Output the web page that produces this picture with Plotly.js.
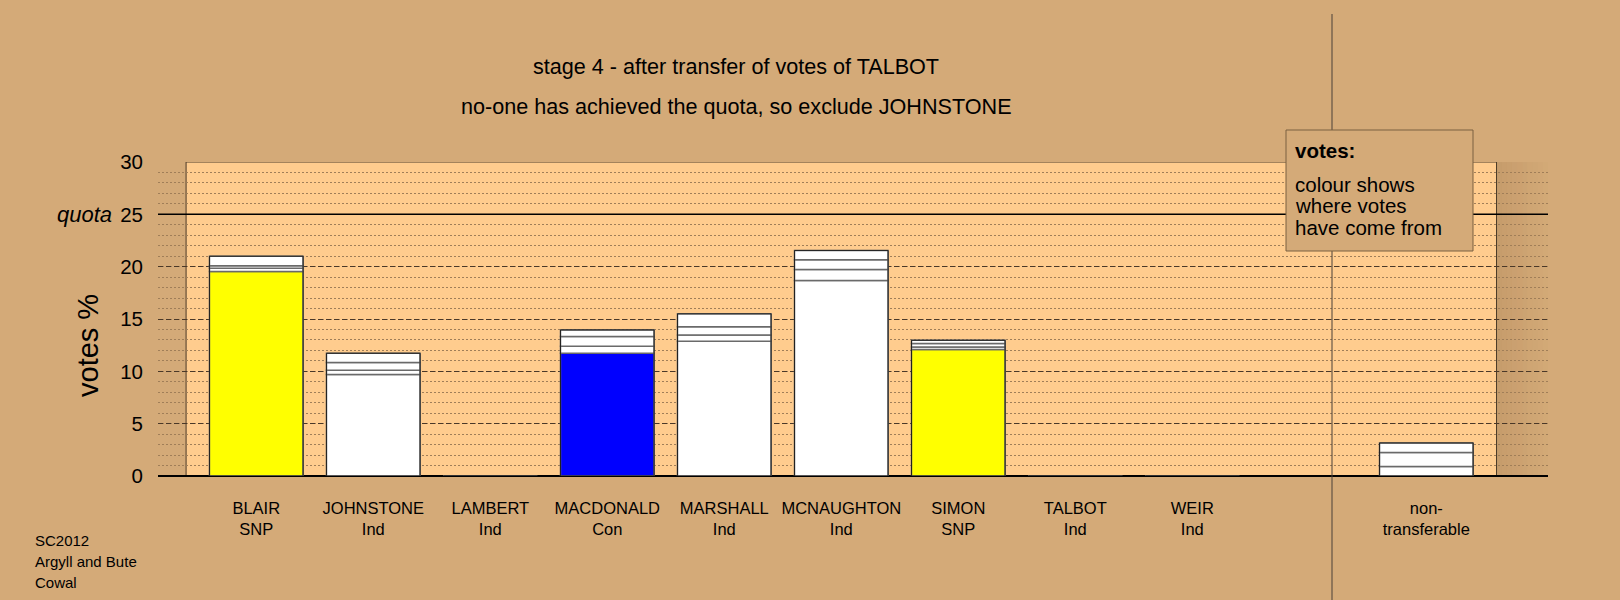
<!DOCTYPE html>
<html>
<head>
<meta charset="utf-8">
<script src="https://cdn.plot.ly/plotly-3.0.1.min.js"></script>
<style>html,body{margin:0;padding:0;background:#D4AA78;}#chart{width:1620px;height:600px;}</style>
</head>
<body>
<div id="chart"></div>
<script>
// ---- data ----
const candidates = ['BLAIR','JOHNSTONE','LAMBERT','MACDONALD','MARSHALL','MCNAUGHTON','SIMON','TALBOT','WEIR'];
const parties    = ['SNP','Ind','Ind','Con','Ind','Ind','SNP','Ind','Ind'];
const partyColours = ['#FFFF00','#FFFFFF','#FFFFFF','#0000FF','#FFFFFF','#FFFFFF','#FFFF00','#FFFFFF','#FFFFFF'];
const nonTransLabel = 'non-<br>transferable';
// vote share segments (bottom to top): first preferences, then transfers at stages 2, 3, 4
const firstPref   = [19.55, 9.69, 0, 11.73, 12.88, 18.68, 12.08, 0, 0];
const stage2      = [0.31, 0.41, 0, 0.67, 0.60, 1.05, 0.25, 0, 0];
const stage3      = [0.22, 0.74, 0, 0.93, 0.77, 0.92, 0.33, 0, 0];
const stage4      = [0.92, 0.89, 0, 0.63, 1.24, 0.90, 0.31, 0, 0];
const nonTrans    = [0, 0.90, 1.34, 0.92];   // first, stage2, stage3, stage4
const quota = 25;
const yTicks = [0, 5, 10, 15, 20, 25, 30];
const titleLines = ['stage 4 - after transfer of votes of TALBOT', 'no-one has achieved the quota, so exclude JOHNSTONE'];
const footerLines = ['SC2012', 'Argyll and Bute', 'Cowal'];
const legendTitle = 'votes:';
const legendLines = ['colour shows', 'where votes', 'have come from'];

// ---- build ----
const BG = '#D4AA78', PEACH = '#FFCC8E';
const L = 158, R = 1548, T = 162, B = 476;
const px = x => (x - L) / (R - L);
const py = y => (B - y) / (B - T);

const xs = candidates.map((c, i) => i);
const ntX = candidates.length + 1;
const allX = xs.concat([ntX]);
const segs = [firstPref, stage2, stage3, stage4].map((arr, k) => arr.concat([nonTrans[k]]));
const colours0 = partyColours.concat(['#FFFFFF']);

const traces = [];
let base = allX.map(() => 0);
segs.forEach((vals, k) => {
  traces.push({
    type: 'bar', x: allX, y: vals, base: base.slice(), width: 0.8,
    marker: {color: k === 0 ? colours0 : '#FFFFFF', line: {color: '#6a6a6a', width: 1.5}},
    hoverinfo: 'skip', showlegend: false
  });
  base = base.map((b, i) => b + vals[i]);
});
// outer outline of each full bar
traces.push({
  type: 'bar', x: allX, y: base, base: allX.map(() => 0), width: 0.8,
  marker: {color: 'rgba(0,0,0,0)', line: {color: '#222', width: 1}},
  hoverinfo: 'skip', showlegend: false
});

const shapes = [];
// light plotting panel
shapes.push({type: 'rect', xref: 'x', yref: 'y', x0: -0.6, x1: 10.6, y0: 0, y1: 30,
  fillcolor: PEACH, line: {color: '#4a3a28', width: 1}, layer: 'below'});
// shadow to the right of the panel
const nStrip = 10, stripW = 0.44 / nStrip;
for (let i = 0; i < nStrip; i++) {
  shapes.push({type: 'rect', xref: 'x', yref: 'y', x0: 10.6 + i * stripW, x1: 10.6 + (i + 1) * stripW, y0: 0, y1: 30,
    fillcolor: 'rgba(110,70,30,' + (0.13 * (1 - i / nStrip)).toFixed(3) + ')', line: {width: 0}, layer: 'below'});
}
// quota line
shapes.push({type: 'line', xref: 'paper', yref: 'y', x0: 0, x1: 1, y0: quota, y1: quota, line: {color: '#000', width: 1.5}, layer: 'above'});
// separator
shapes.push({type: 'line', xref: 'paper', yref: 'paper', x0: px(1332), x1: px(1332), y0: py(14), y1: py(600), line: {color: '#4a4038', width: 1}, layer: 'above'});
// legend box
shapes.push({type: 'rect', xref: 'paper', yref: 'paper', x0: px(1286), x1: px(1473), y0: py(251), y1: py(130),
  fillcolor: BG, line: {color: '#7a6040', width: 1}, layer: 'above'});

const FONT = 'Liberation Sans, Arial, sans-serif';
const annotations = [];
titleLines.forEach((t, i) => annotations.push({text: t, xref: 'paper', yref: 'paper', x: px(736), y: py(67 + 40 * i),
  xanchor: 'center', yanchor: 'middle', showarrow: false, font: {family: FONT, size: 21.6, color: '#000'}}));
footerLines.forEach((t, i) => annotations.push({text: t, xref: 'paper', yref: 'paper', x: px(33), y: py(540 + 21 * i),
  xanchor: 'left', yanchor: 'middle', showarrow: false, font: {family: FONT, size: 15, color: '#000'}}));
annotations.push({text: '<b>' + legendTitle + '</b>', xref: 'paper', yref: 'paper', x: px(1293), y: py(151),
  xanchor: 'left', yanchor: 'middle', showarrow: false, font: {family: FONT, size: 20.5, color: '#000'}});
legendLines.forEach((t, i) => annotations.push({text: t, xref: 'paper', yref: 'paper', x: px(1293), y: py(184 + 21.5 * i),
  xanchor: 'left', yanchor: 'middle', showarrow: false, font: {family: FONT, size: 20.5, color: '#000'}}));
annotations.push({text: '<i>quota</i>', xref: 'paper', yref: 'y', x: px(114), y: quota,
  xanchor: 'right', yanchor: 'middle', showarrow: false, font: {family: FONT, size: 22, color: '#000'}});
annotations.push({text: 'votes %', xref: 'paper', yref: 'paper', x: px(88), y: py(346), textangle: -90,
  xanchor: 'center', yanchor: 'middle', showarrow: false, font: {family: FONT, size: 29, color: '#000'}});

const tickText = candidates.map((c, i) => c + '<br>' + parties[i]).concat([nonTransLabel]);

const layout = {
  width: 1620, height: 600,
  margin: {l: L, r: 1620 - R, t: T, b: 600 - B, pad: 0},
  paper_bgcolor: BG, plot_bgcolor: BG,
  barmode: 'overlay', bargap: 0,
  font: {family: FONT, color: '#000'},
  xaxis: {range: [-0.84, 11.04], tickmode: 'array', tickvals: allX, ticktext: tickText,
    showgrid: false, zeroline: false, showline: false, ticks: '', ticklabelstandoff: 20,
    tickfont: {family: FONT, size: 16.5, color: '#000'}, fixedrange: true},
  yaxis: {range: [0, 30], tickmode: 'array', tickvals: yTicks, ticktext: yTicks.map(String),
    showgrid: true, gridcolor: '#4a3828', griddash: '5px,3px', gridwidth: 1,
    minor: {dtick: 1, tick0: 0, showgrid: true, gridcolor: '#a07e58', griddash: '2px,2px', gridwidth: 1, ticks: ''},
    zeroline: true, zerolinecolor: '#000', zerolinewidth: 1.5, showline: false, ticks: '', ticklabelstandoff: 14,
    tickfont: {family: FONT, size: 20.5, color: '#000'}, fixedrange: true},
  shapes: shapes, annotations: annotations
};

Plotly.newPlot('chart', traces, layout, {staticPlot: true, displayModeBar: false});
</script>
</body>
</html>
